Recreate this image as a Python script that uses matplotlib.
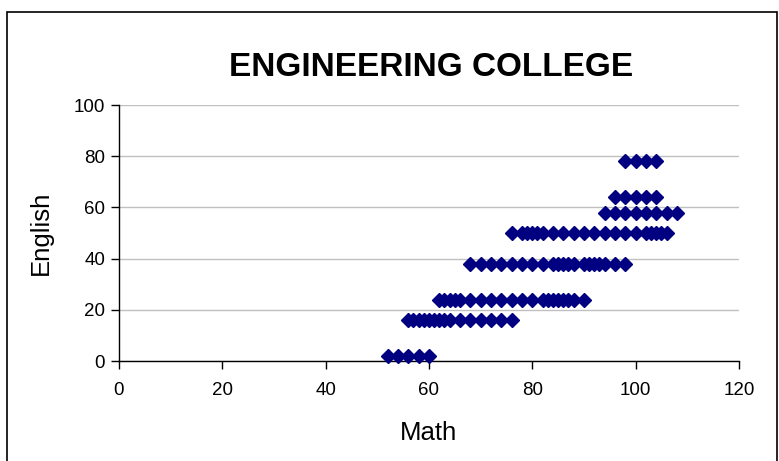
import matplotlib
matplotlib.use("Agg")
import matplotlib.pyplot as plt
from matplotlib.patches import Rectangle

plt.rcParams['font.family'] = ['Liberation Sans', 'DejaVu Sans']

# Math scores grouped by English score
eng_2 = [52, 54, 56, 58, 60]
eng_16 = [56, 57, 58, 59, 60, 61, 62, 63, 64, 66, 68, 70, 72, 74, 76]
eng_24 = [62, 63, 64, 65, 66, 68, 70, 72, 74, 76, 78, 80, 82, 83, 84, 85, 86, 87, 88, 90]
eng_38 = [68, 70, 72, 74, 76, 78, 80, 82, 84, 85, 86, 87, 88, 90, 91, 92, 93, 94, 96, 98]
eng_50 = [76, 78, 79, 80, 81, 82, 84, 86, 88, 90, 92, 94, 96, 98, 100, 102, 103, 104, 105, 106]
eng_58 = [94, 96, 98, 100, 102, 104, 106, 108]
eng_64 = [96, 98, 100, 102, 104]
eng_78 = [98, 100, 102, 104]

groups = [(2, eng_2), (16, eng_16), (24, eng_24), (38, eng_38),
          (50, eng_50), (58, eng_58), (64, eng_64), (78, eng_78)]

math_scores = []
english_scores = []
for eng, maths in groups:
    math_scores.extend(maths)
    english_scores.extend([eng] * len(maths))

x_ticks = [0, 20, 40, 60, 80, 100, 120]
y_ticks = [0, 20, 40, 60, 80, 100]

W, H = 779, 461
fig = plt.figure(figsize=(W / 100, H / 100), dpi=100)
fig.patch.set_facecolor('white')

# Chart-area frame
fig.patches.append(Rectangle((7 / W, -0.05), 770 / W, (H - 12) / H + 0.05,
                             transform=fig.transFigure, fill=False,
                             edgecolor='black', linewidth=1.2))

ax = fig.add_axes([119 / W, (H - 361) / H, 620 / W, 256 / H])
ax.set_xlim(0, 120)
ax.set_ylim(0, 100)
ax.set_xticks(x_ticks)
ax.set_yticks(y_ticks)

ax.grid(axis='y', color='#c0c0c0', linewidth=1)
ax.set_axisbelow(True)
for s in ('top', 'right'):
    ax.spines[s].set_visible(False)
for s in ('left', 'bottom'):
    ax.spines[s].set_color('black')
    ax.spines[s].set_linewidth(1)

ax.tick_params(axis='both', direction='out', length=6, width=1,
               labelsize=13.5, colors='black')
ax.tick_params(axis='x', pad=9)
ax.tick_params(axis='y', pad=4)

ax.plot(math_scores, english_scores, linestyle='none', marker='D',
        markersize=7.6, color='#000080', markeredgecolor='#000080',
        clip_on=False, zorder=3)

ax.set_xlabel('Math', fontsize=18.5, labelpad=16)
ax.set_ylabel('English', fontsize=18.5, labelpad=15)
fig.text(431 / W, (H - 67) / H, 'ENGINEERING COLLEGE', ha='center', va='center',
         fontsize=24, fontweight='bold')

fig.savefig('out.png', dpi=100)
